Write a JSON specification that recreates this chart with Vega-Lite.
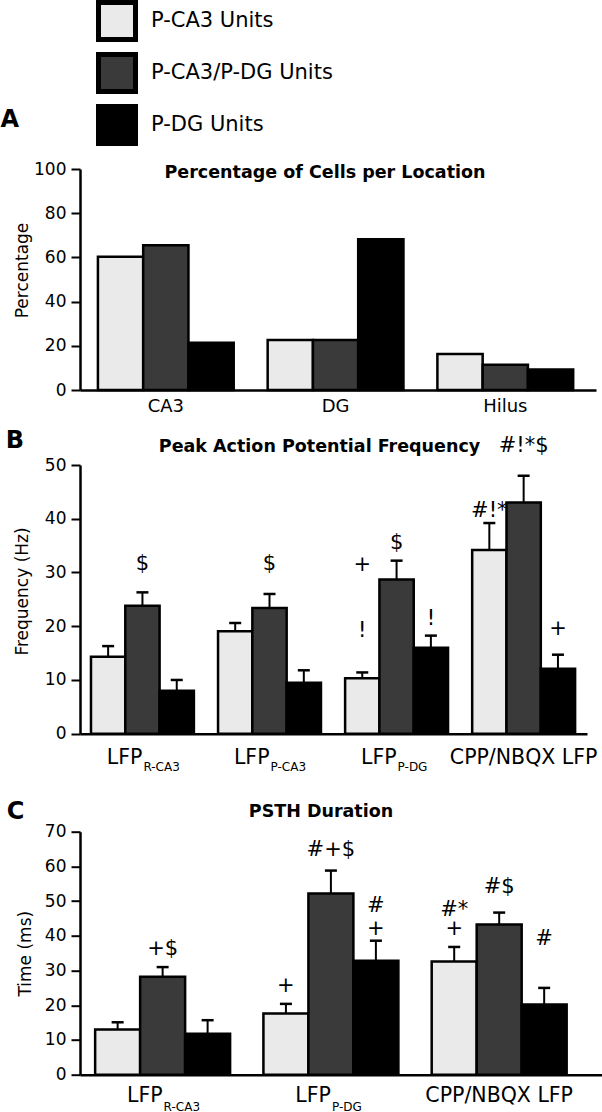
{
  "$schema": "https://vega.github.io/schema/vega-lite/v6.json",
  "padding": 0,
  "autosize": {"type": "pad"},
  "config": {
    "view": {"stroke": null},
    "font": "DejaVu Sans",
    "axis": {"grid": false, "domainColor": "#000", "domainWidth": 2.5, "tickColor": "#000", "tickWidth": 2, "tickSize": 9, "labelColor": "#000", "labelFont": "DejaVu Sans", "labelFontSize": 17, "labelPadding": 5, "titleColor": "#000", "titleFont": "DejaVu Sans", "titleFontSize": 17, "titleFontWeight": "normal"},
    "axisY": {"labelOverlap": false, "labelFlush": false},
    "title": {"font": "DejaVu Sans", "fontWeight": "bold", "color": "#000", "fontSize": 17.5}
  },
  "datasets": {
    "cells": [
      {"location": "CA3", "unit": "P-CA3 Units", "percent": 60.3},
      {"location": "CA3", "unit": "P-CA3/P-DG Units", "percent": 65.5},
      {"location": "CA3", "unit": "P-DG Units", "percent": 21.4},
      {"location": "DG", "unit": "P-CA3 Units", "percent": 22.6},
      {"location": "DG", "unit": "P-CA3/P-DG Units", "percent": 22.6},
      {"location": "DG", "unit": "P-DG Units", "percent": 68.2},
      {"location": "Hilus", "unit": "P-CA3 Units", "percent": 16.3},
      {"location": "Hilus", "unit": "P-CA3/P-DG Units", "percent": 11.4},
      {"location": "Hilus", "unit": "P-DG Units", "percent": 9.3}
    ],
    "freq": [
      {"group": "LFP|R-CA3", "unit": "P-CA3 Units", "mean": 14.3, "hi": 16.3},
      {"group": "LFP|R-CA3", "unit": "P-CA3/P-DG Units", "mean": 23.8, "hi": 26.3},
      {"group": "LFP|R-CA3", "unit": "P-DG Units", "mean": 8.0, "hi": 10.0},
      {"group": "LFP|P-CA3", "unit": "P-CA3 Units", "mean": 19.05, "hi": 20.6},
      {"group": "LFP|P-CA3", "unit": "P-CA3/P-DG Units", "mean": 23.4, "hi": 26.0},
      {"group": "LFP|P-CA3", "unit": "P-DG Units", "mean": 9.5, "hi": 11.8},
      {"group": "LFP|P-DG", "unit": "P-CA3 Units", "mean": 10.3, "hi": 11.4},
      {"group": "LFP|P-DG", "unit": "P-CA3/P-DG Units", "mean": 28.7, "hi": 32.2},
      {"group": "LFP|P-DG", "unit": "P-DG Units", "mean": 16.0, "hi": 18.25},
      {"group": "CPP/NBQX LFP", "unit": "P-CA3 Units", "mean": 34.2, "hi": 39.2},
      {"group": "CPP/NBQX LFP", "unit": "P-CA3/P-DG Units", "mean": 43.0, "hi": 48.0},
      {"group": "CPP/NBQX LFP", "unit": "P-DG Units", "mean": 12.1, "hi": 14.7}
    ],
    "freqMarks": [
      {"group": "LFP|R-CA3", "unit": "P-CA3/P-DG Units", "at": 31.6, "label": "$"},
      {"group": "LFP|P-CA3", "unit": "P-CA3/P-DG Units", "at": 31.6, "label": "$"},
      {"group": "LFP|P-DG", "unit": "P-CA3 Units", "at": 31.3, "label": "+"},
      {"group": "LFP|P-DG", "unit": "P-CA3/P-DG Units", "at": 35.5, "label": "$"},
      {"group": "LFP|P-DG", "unit": "P-CA3 Units", "at": 19.2, "label": "!"},
      {"group": "LFP|P-DG", "unit": "P-DG Units", "at": 21.4, "label": "!"},
      {"group": "CPP/NBQX LFP", "unit": "P-CA3 Units", "at": 41.5, "label": "#!*"},
      {"group": "CPP/NBQX LFP", "unit": "P-DG Units", "at": 19.5, "label": "+"},
      {"group": "CPP/NBQX LFP", "unit": "P-CA3/P-DG Units", "at": 53.6, "label": "#!*$"}
    ],
    "psth": [
      {"group": "LFP|R-CA3", "unit": "P-CA3 Units", "mean": 13.0, "hi": 15.1},
      {"group": "LFP|R-CA3", "unit": "P-CA3/P-DG Units", "mean": 28.2, "hi": 31.0},
      {"group": "LFP|R-CA3", "unit": "P-DG Units", "mean": 11.8, "hi": 15.7},
      {"group": "LFP|P-DG", "unit": "P-CA3 Units", "mean": 17.6, "hi": 20.4},
      {"group": "LFP|P-DG", "unit": "P-CA3/P-DG Units", "mean": 52.2, "hi": 58.8},
      {"group": "LFP|P-DG", "unit": "P-DG Units", "mean": 32.8, "hi": 38.6},
      {"group": "CPP/NBQX LFP", "unit": "P-CA3 Units", "mean": 32.6, "hi": 36.8},
      {"group": "CPP/NBQX LFP", "unit": "P-CA3/P-DG Units", "mean": 43.3, "hi": 46.7},
      {"group": "CPP/NBQX LFP", "unit": "P-DG Units", "mean": 20.2, "hi": 25.0}
    ],
    "psthMarks": [
      {"group": "LFP|R-CA3", "unit": "P-CA3/P-DG Units", "at": 36.3, "label": "+$"},
      {"group": "LFP|P-DG", "unit": "P-CA3 Units", "at": 25.6, "label": "+"},
      {"group": "LFP|P-DG", "unit": "P-CA3/P-DG Units", "at": 64.8, "label": "#+$"},
      {"group": "LFP|P-DG", "unit": "P-DG Units", "at": 48.7, "label": "#"},
      {"group": "LFP|P-DG", "unit": "P-DG Units", "at": 42.0, "label": "+"},
      {"group": "CPP/NBQX LFP", "unit": "P-CA3 Units", "at": 47.5, "label": "#*"},
      {"group": "CPP/NBQX LFP", "unit": "P-CA3 Units", "at": 42.0, "label": "+"},
      {"group": "CPP/NBQX LFP", "unit": "P-CA3/P-DG Units", "at": 54.2, "label": "#$"},
      {"group": "CPP/NBQX LFP", "unit": "P-DG Units", "at": 39.1, "label": "#"}
    ]
  },
  "spacing": 13,
  "resolve": {"scale": {"xOffset": "independent"}},
  "vconcat": [
    {
      "title": {"text": "A", "anchor": "start", "frame": "bounds", "fontSize": 24, "dx": -13, "offset": 28},
      "resolve": {"scale": {"xOffset": "independent"}},
      "vconcat": [
        {
          "width": 516,
          "height": 221,
          "title": {"text": "Percentage of Cells per Location", "frame": "group", "anchor": "middle", "dx": -13, "offset": -21.7},
          "data": {"name": "cells"},
          "mark": {"type": "bar", "stroke": "#000", "strokeWidth": 2.5},
          "encoding": {
            "x": {"field": "location", "type": "nominal", "sort": ["CA3", "DG", "Hilus"], "scale": {"paddingInner": 0.2, "paddingOuter": 0.12, "align": 0.44}, "axis": {"title": null, "labelAngle": 0, "labelFontSize": 18, "labelPadding": 7, "ticks": false}},
            "xOffset": {"field": "unit", "type": "nominal", "sort": ["P-CA3 Units", "P-CA3/P-DG Units", "P-DG Units"], "scale": {"paddingInner": 0, "paddingOuter": 0}},
            "y": {"field": "percent", "type": "quantitative", "scale": {"domain": [0, 100], "nice": false}, "axis": {"title": "Percentage", "values": [0, 20, 40, 60, 80, 100], "labelOverlap": false, "titlePadding": 2, "titleY": 101}},
            "fill": {"field": "unit", "type": "nominal", "sort": ["P-CA3 Units", "P-CA3/P-DG Units", "P-DG Units"], "scale": {"domain": ["P-CA3 Units", "P-CA3/P-DG Units", "P-DG Units"], "range": ["#eaeaea", "#3a3a3a", "#000000"]}, "legend": {"title": null, "orient": "none", "legendX": 16, "legendY": -169, "direction": "vertical", "symbolType": "square", "symbolSize": 1369, "symbolStrokeWidth": 5, "symbolStrokeColor": "#000", "symbolOpacity": 1, "labelFont": "DejaVu Sans", "labelFontSize": 21, "labelColor": "#000", "labelOffset": 13, "labelLimit": 400, "rowPadding": -6, "padding": 0}}
          }
        }
      ]
    },
    {
      "spacing": 25.7,
      "resolve": {"scale": {"xOffset": "independent"}},
      "vconcat": [
        {
          "title": {"text": "B", "anchor": "start", "frame": "bounds", "fontSize": 24, "dx": -8, "offset": -18.2},
          "resolve": {"scale": {"xOffset": "independent"}},
          "vconcat": [
            {
              "width": 507,
              "height": 268.7,
              "title": {"text": "Peak Action Potential Frequency", "frame": "group", "anchor": "middle", "dx": -14, "offset": -20.9},
              "resolve": {"axis": {"x": "independent"}},
              "layer": [
                {
                  "data": {"name": "freq"},
                  "mark": {"type": "bar", "stroke": "#000", "strokeWidth": 2.5},
                  "encoding": {
                    "x": {"field": "group", "type": "nominal", "sort": ["LFP|R-CA3", "LFP|P-CA3", "LFP|P-DG", "CPP/NBQX LFP"], "scale": {"paddingInner": 0.19, "paddingOuter": 0.09, "align": 0.48}, "axis": {"orient": "bottom", "title": null, "labelAngle": 0, "labelFontSize": 20.5, "labelPadding": 13.5, "ticks": false, "labelExpr": "split(datum.value, '|')[0]", "labelAlign": {"condition": {"test": "indexof(datum.value, '|') >= 0", "value": "right"}, "value": "center"}}},
                    "xOffset": {"field": "unit", "type": "nominal", "sort": ["P-CA3 Units", "P-CA3/P-DG Units", "P-DG Units"], "scale": {"paddingInner": 0, "paddingOuter": 0}},
                    "y": {"field": "mean", "type": "quantitative", "title": "Frequency (Hz)", "scale": {"domain": [0, 50], "nice": false}, "axis": {"values": [0, 10, 20, 30, 40, 50], "labelOverlap": false, "titlePadding": 12.6, "titleY": 126}},
                    "fill": {"field": "unit", "type": "nominal", "sort": ["P-CA3 Units", "P-CA3/P-DG Units", "P-DG Units"], "scale": {"domain": ["P-CA3 Units", "P-CA3/P-DG Units", "P-DG Units"], "range": ["#eaeaea", "#3a3a3a", "#000000"]}, "legend": {"title": null, "orient": "none", "legendX": 16, "legendY": -169, "direction": "vertical", "symbolType": "square", "symbolSize": 1369, "symbolStrokeWidth": 5, "symbolStrokeColor": "#000", "symbolOpacity": 1, "labelFont": "DejaVu Sans", "labelFontSize": 21, "labelColor": "#000", "labelOffset": 13, "labelLimit": 400, "rowPadding": -6, "padding": 0}}
                  }
                },
                {
                  "data": {"name": "freq"},
                  "mark": {"type": "rule", "stroke": "#000", "strokeWidth": 2},
                  "encoding": {
                    "x": {"field": "group", "type": "nominal", "sort": ["LFP|R-CA3", "LFP|P-CA3", "LFP|P-DG", "CPP/NBQX LFP"], "scale": {"paddingInner": 0.19, "paddingOuter": 0.09, "align": 0.48}, "axis": {"orient": "bottom", "title": null, "labelAngle": 0, "labelFontSize": 12, "labelPadding": 28, "ticks": false, "domain": false, "labelAlign": "left", "labelOffset": 1, "labelExpr": "indexof(datum.value, '|') >= 0 ? split(datum.value, '|')[1] : ''"}},
                    "xOffset": {"field": "unit", "type": "nominal", "sort": ["P-CA3 Units", "P-CA3/P-DG Units", "P-DG Units"], "scale": {"paddingInner": 0, "paddingOuter": 0}},
                    "y": {"field": "mean", "type": "quantitative", "title": "Frequency (Hz)", "scale": {"domain": [0, 50], "nice": false}},
                    "y2": {"field": "hi"}
                  }
                },
                {
                  "data": {"name": "freq"},
                  "mark": {"type": "tick", "color": "#000", "size": 12, "thickness": 2.5, "opacity": 1},
                  "encoding": {
                    "x": {"field": "group", "type": "nominal", "sort": ["LFP|R-CA3", "LFP|P-CA3", "LFP|P-DG", "CPP/NBQX LFP"], "scale": {"paddingInner": 0.19, "paddingOuter": 0.09, "align": 0.48}, "axis": null},
                    "xOffset": {"field": "unit", "type": "nominal", "sort": ["P-CA3 Units", "P-CA3/P-DG Units", "P-DG Units"], "scale": {"paddingInner": 0, "paddingOuter": 0}},
                    "y": {"field": "hi", "type": "quantitative", "title": "Frequency (Hz)", "scale": {"domain": [0, 50], "nice": false}}
                  }
                },
                {
                  "data": {"name": "freqMarks"},
                  "mark": {"type": "text", "fontSize": 21, "baseline": "middle", "align": "center", "color": "#000", "font": "DejaVu Sans"},
                  "encoding": {
                    "x": {"field": "group", "type": "nominal", "sort": ["LFP|R-CA3", "LFP|P-CA3", "LFP|P-DG", "CPP/NBQX LFP"], "scale": {"paddingInner": 0.19, "paddingOuter": 0.09, "align": 0.48}, "axis": null},
                    "xOffset": {"field": "unit", "type": "nominal", "sort": ["P-CA3 Units", "P-CA3/P-DG Units", "P-DG Units"], "scale": {"paddingInner": 0, "paddingOuter": 0}},
                    "y": {"field": "at", "type": "quantitative", "title": "Frequency (Hz)", "scale": {"domain": [0, 50], "nice": false}},
                    "text": {"field": "label"}
                  }
                }
              ]
            }
          ]
        },
        {
          "title": {"text": "C", "anchor": "start", "frame": "bounds", "fontSize": 24, "dx": -10, "offset": -20.5},
          "resolve": {"scale": {"xOffset": "independent"}},
          "vconcat": [
            {
              "width": 522,
              "height": 243,
              "title": {"text": "PSTH Duration", "frame": "group", "anchor": "middle", "dx": -20, "offset": 2.2},
              "resolve": {"axis": {"x": "independent"}},
              "layer": [
                {
                  "data": {"name": "psth"},
                  "mark": {"type": "bar", "stroke": "#000", "strokeWidth": 2.5},
                  "encoding": {
                    "x": {"field": "group", "type": "nominal", "sort": ["LFP|R-CA3", "LFP|P-DG", "CPP/NBQX LFP"], "scale": {"paddingInner": 0.198, "paddingOuter": 0.15, "align": 0.3}, "axis": {"orient": "bottom", "title": null, "labelAngle": 0, "labelFontSize": 20.5, "labelPadding": 11, "ticks": false, "labelExpr": "split(datum.value, '|')[0]", "labelAlign": {"condition": {"test": "indexof(datum.value, '|') >= 0", "value": "right"}, "value": "center"}}},
                    "xOffset": {"field": "unit", "type": "nominal", "sort": ["P-CA3 Units", "P-CA3/P-DG Units", "P-DG Units"], "scale": {"paddingInner": 0, "paddingOuter": 0}},
                    "y": {"field": "mean", "type": "quantitative", "title": "Time (ms)", "scale": {"domain": [0, 70], "nice": false}, "axis": {"values": [0, 10, 20, 30, 40, 50, 60, 70], "tickCount": 8, "labelOverlap": false, "labelFlush": false, "labelBound": false, "titlePadding": 9.7}},
                    "fill": {"field": "unit", "type": "nominal", "sort": ["P-CA3 Units", "P-CA3/P-DG Units", "P-DG Units"], "scale": {"domain": ["P-CA3 Units", "P-CA3/P-DG Units", "P-DG Units"], "range": ["#eaeaea", "#3a3a3a", "#000000"]}, "legend": {"title": null, "orient": "none", "legendX": 16, "legendY": -169, "direction": "vertical", "symbolType": "square", "symbolSize": 1369, "symbolStrokeWidth": 5, "symbolStrokeColor": "#000", "symbolOpacity": 1, "labelFont": "DejaVu Sans", "labelFontSize": 21, "labelColor": "#000", "labelOffset": 13, "labelLimit": 400, "rowPadding": -6, "padding": 0}}
                  }
                },
                {
                  "data": {"name": "psth"},
                  "mark": {"type": "rule", "stroke": "#000", "strokeWidth": 2},
                  "encoding": {
                    "x": {"field": "group", "type": "nominal", "sort": ["LFP|R-CA3", "LFP|P-DG", "CPP/NBQX LFP"], "scale": {"paddingInner": 0.198, "paddingOuter": 0.15, "align": 0.3}, "axis": {"orient": "bottom", "title": null, "labelAngle": 0, "labelFontSize": 12, "labelPadding": 27, "ticks": false, "domain": false, "labelAlign": "left", "labelOffset": 1, "labelExpr": "indexof(datum.value, '|') >= 0 ? split(datum.value, '|')[1] : ''"}},
                    "xOffset": {"field": "unit", "type": "nominal", "sort": ["P-CA3 Units", "P-CA3/P-DG Units", "P-DG Units"], "scale": {"paddingInner": 0, "paddingOuter": 0}},
                    "y": {"field": "mean", "type": "quantitative", "title": "Time (ms)", "scale": {"domain": [0, 70], "nice": false}},
                    "y2": {"field": "hi"}
                  }
                },
                {
                  "data": {"name": "psth"},
                  "mark": {"type": "tick", "color": "#000", "size": 12, "thickness": 2.5, "opacity": 1},
                  "encoding": {
                    "x": {"field": "group", "type": "nominal", "sort": ["LFP|R-CA3", "LFP|P-DG", "CPP/NBQX LFP"], "scale": {"paddingInner": 0.198, "paddingOuter": 0.15, "align": 0.3}, "axis": null},
                    "xOffset": {"field": "unit", "type": "nominal", "sort": ["P-CA3 Units", "P-CA3/P-DG Units", "P-DG Units"], "scale": {"paddingInner": 0, "paddingOuter": 0}},
                    "y": {"field": "hi", "type": "quantitative", "title": "Time (ms)", "scale": {"domain": [0, 70], "nice": false}}
                  }
                },
                {
                  "data": {"name": "psthMarks"},
                  "mark": {"type": "text", "fontSize": 21, "baseline": "middle", "align": "center", "color": "#000", "font": "DejaVu Sans"},
                  "encoding": {
                    "x": {"field": "group", "type": "nominal", "sort": ["LFP|R-CA3", "LFP|P-DG", "CPP/NBQX LFP"], "scale": {"paddingInner": 0.198, "paddingOuter": 0.15, "align": 0.3}, "axis": null},
                    "xOffset": {"field": "unit", "type": "nominal", "sort": ["P-CA3 Units", "P-CA3/P-DG Units", "P-DG Units"], "scale": {"paddingInner": 0, "paddingOuter": 0}},
                    "y": {"field": "at", "type": "quantitative", "title": "Time (ms)", "scale": {"domain": [0, 70], "nice": false}},
                    "text": {"field": "label"}
                  }
                }
              ]
            }
          ]
        }
      ]
    }
  ]
}
